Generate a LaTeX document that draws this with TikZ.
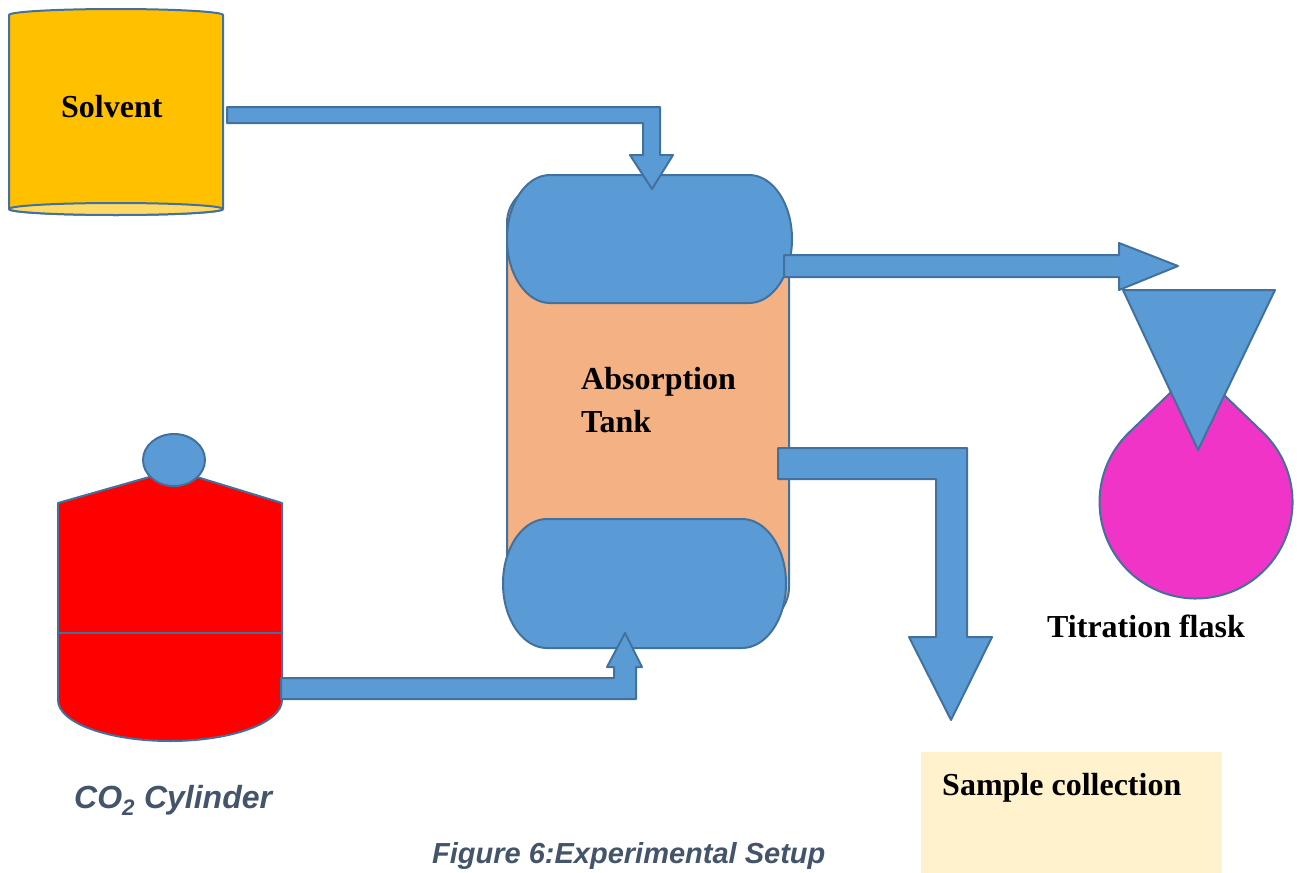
\documentclass[tikz,border=0pt]{standalone}
\usepackage{fontspec}
\setmainfont{Liberation Serif}
\newfontfamily\capfont{Liberation Sans}
\definecolor{pipeblue}{RGB}{91,155,213}
\definecolor{edgeblue}{RGB}{65,113,156}
\definecolor{tankorange}{RGB}{244,177,131}
\definecolor{solventgold}{RGB}{255,192,0}
\definecolor{solventlight}{RGB}{255,217,102}
\definecolor{flaskpink}{RGB}{240,52,200}
\definecolor{capgray}{RGB}{68,84,106}
\definecolor{notecream}{RGB}{255,242,204}
\tikzset{
  part/.style={draw=edgeblue, line width=2pt, line join=round},
  pipe/.style={part, fill=pipeblue},
  label/.style={font=\fontsize{32}{43}\selectfont\bfseries, inner sep=0pt, anchor=base west, align=left},
  caplabel/.style={font=\capfont\bfseries\itshape, text=capgray, inner sep=0pt, anchor=base west}
}
\begin{document}
\begin{tikzpicture}[x=1pt, y=1pt, yscale=-1]
\useasboundingbox (0,0) rectangle (1302,873);

% solvent drum
\path[part, fill=solventgold] (9,15) arc[start angle=180, end angle=360, x radius=107, y radius=6]
  -- (223,209) arc[start angle=0, end angle=180, x radius=107, y radius=6] -- cycle;
\path[part, fill=solventlight] (116,209) ellipse[x radius=107, y radius=6];
\node[label] (solvent) at (61,117) {Solvent};

% absorption tank: shell and the two heads
\path[part, fill=tankorange, rounded corners=38] (507,185) rectangle (789,625);
\path[pipe] (550,175) -- (749,175) arc[start angle=-90, end angle=90, x radius=43, y radius=64]
  -- (550,303) arc[start angle=90, end angle=270, x radius=43, y radius=64] -- cycle;
\path[pipe] (547,519) -- (742,519) arc[start angle=-90, end angle=90, x radius=44, y radius=64.5]
  -- (547,648) arc[start angle=90, end angle=270, x radius=44, y radius=64.5] -- cycle;
\node[label] (tank) at (581,432) {Absorption\\Tank};

% CO2 cylinder
\path[part, fill=red] (58,503) -- (174,470) -- (282,503) -- (282,700)
  arc[start angle=0, end angle=180, x radius=112, y radius=41] -- cycle;
\draw[part] (58,633) -- (282,633);
\path[pipe] (174,460) ellipse[x radius=31, y radius=26];
\node[caplabel, font=\capfont\fontsize{32}{38}\selectfont\bfseries\itshape] (co2) at (74,808) {CO\textsubscript{2} Cylinder};

% solvent feed line
\path[pipe] (227,107) -- (660,107) -- (660,155) -- (673,155) -- (652,189) -- (630,155)
  -- (643,155) -- (643,123) -- (227,123) -- cycle;

% gas feed line
\path[pipe] (281,678) -- (614,678) -- (614,667) -- (607,667) -- (625,633) -- (642,667)
  -- (636,667) -- (636,699) -- (281,699) -- cycle;

% outlet to sample collection
\path[pipe] (778,448) -- (967,448) -- (967,637) -- (992,637) -- (951,720) -- (909,637)
  -- (936,637) -- (936,479) -- (778,479) -- cycle;

% outlet to titration
\path[pipe] (784,255) -- (1119,255) -- (1119,243) -- (1178,266) -- (1119,290)
  -- (1119,277) -- (784,277) -- cycle;

% titration flask with funnel
\path[part, fill=flaskpink] (1196,368) -- (1129,432.6)
  arc[start angle=-134, end angle=-406, radius=96.5] -- cycle;
\path[pipe] (1123,290) -- (1275,290) -- (1198,450) -- cycle;
\node[label] (flask) at (1047,637) {Titration flask};

% sample collection
\fill[notecream] (921,752) rectangle (1222,873);
\node[label] (sample) at (942,795) {Sample collection};

% caption
\node[caplabel, font=\capfont\fontsize{29}{34}\selectfont\bfseries\itshape] (caption) at (432,863) {Figure 6:Experimental Setup};
\end{tikzpicture}
\end{document}
